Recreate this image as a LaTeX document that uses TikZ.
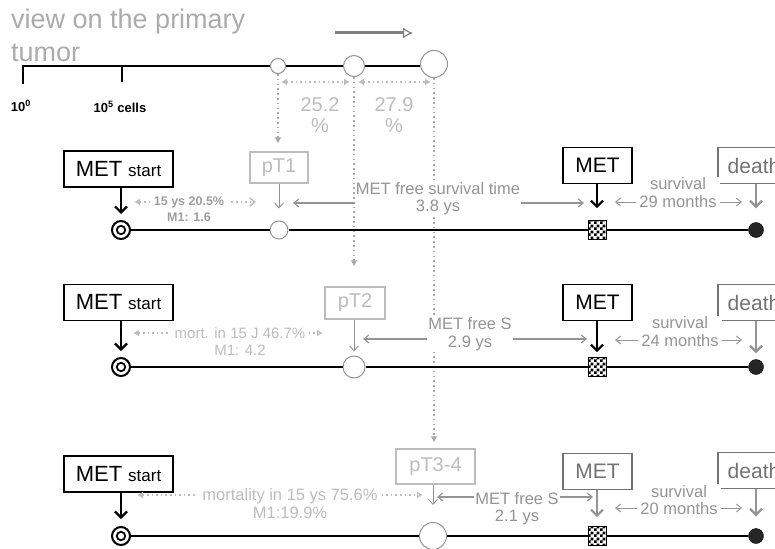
\documentclass[tikz,border=0pt]{standalone}
\usepackage{fontspec}
\setmainfont{Liberation Sans}
\usetikzlibrary{arrows.meta,patterns}
\definecolor{pale}{gray}{0.74}
\definecolor{midg}{gray}{0.58}
\definecolor{darkg}{gray}{0.45}
\pgfdeclarepatternformonly{checkthree}{\pgfqpoint{0pt}{0pt}}{\pgfqpoint{6pt}{6pt}}{\pgfqpoint{6pt}{6pt}}{%
  \pgfpathrectangle{\pgfqpoint{0pt}{0pt}}{\pgfqpoint{3pt}{3pt}}%
  \pgfpathrectangle{\pgfqpoint{3pt}{3pt}}{\pgfqpoint{3pt}{3pt}}%
  \pgfusepath{fill}}
\newcommand{\metstart}{{\fontsize{22}{24}\selectfont MET}\hspace{6pt}{\fontsize{17}{19}\selectfont start}}
\begin{document}
\begin{tikzpicture}[x=1pt,y=-1pt,
  blk/.style={line width=2.4pt, black},
  box/.style={draw, line width=1.4pt, minimum height=36pt, inner sep=0pt, fill=white},
  msbox/.style={box, minimum width=109pt},
  metbox/.style={box, minimum width=69pt, font=\fontsize{21}{24}\selectfont},
  dbox/.style={box, draw=darkg, text=darkg, minimum width=72pt, font=\fontsize{21}{24}\selectfont},
  ptbox/.style={draw=pale, line width=1.2pt, fill=white, text=pale, inner sep=0pt, font=\fontsize{20}{22}\selectfont},
  tc/.style={circle, draw=midg, line width=1pt, fill=white, inner sep=0pt},
  dcirc/.style={circle, draw=black, line width=2pt, fill=white, minimum size=18pt, inner sep=0pt},
  chk/.style={draw=black, line width=0.6pt, minimum width=18pt, minimum height=19pt, inner sep=0pt, pattern=checkthree, pattern color=black},
  bdot/.style={circle, fill=black!85, draw=black, minimum size=15pt, inner sep=0pt},
  blkarr/.style={line width=2.2pt, black, -{Straight Barb[length=6pt,width=12pt]}},
  grarr/.style={line width=2.2pt, midg, -{Straight Barb[length=6pt,width=12pt]}},
  ptarr/.style={line width=0.9pt, midg, -{Straight Barb[length=5pt,width=9pt]}},
  dotarr/.style={line width=1.6pt, pale, dash pattern=on 1.6pt off 3pt},
  vdot/.style={line width=1.8pt, midg!80, dash pattern=on 1.6pt off 3.2pt, -{Latex[length=6pt,width=7pt]}},
  midarr/.style={line width=1.1pt, midg, {Straight Barb[length=5pt,width=8pt]}-{Straight Barb[length=5pt,width=8pt]}},
  garr/.style={line width=3pt, black!50, -{Latex[open,length=10pt,width=11pt,line width=1.2pt]}},
  lbl/.style={fill=white, inner sep=1pt, align=center, text=midg, font=\fontsize{16.5}{17.5}\selectfont},
  llbl/.style={fill=white, inner sep=1pt, align=center, text=pale},
  pct/.style={align=center, text=pale, inner sep=0pt, font=\fontsize{20}{21}\selectfont},
  ttl/.style={align=left, text=black!33, inner sep=0pt, font=\fontsize{27}{33}\selectfont},
  scl/.style={inner sep=0pt, font=\fontsize{13}{15}\selectfont\bfseries}
]
\useasboundingbox (0,0) rectangle (775,548);
\clip (0,0) rectangle (775,548);

% ---------- top: view on the primary tumor ----------
\node[ttl, anchor=north west] (ttl) at (11,9) {view on the primary\\tumor};
\node[tc, minimum size=15pt] (c1) at (278,66) {};
\node[tc, minimum size=21pt] (c2) at (354,66) {};
\node[tc, minimum size=27pt] (c3) at (434,64) {};
\draw[blk] (23,84) -- (23,66) -- (c1.west);
\draw[blk] (c1.east) -- (c2.west);
\draw[blk] (c2.east) -- (c3.west |- c2.east);
\draw[blk] (122,66) -- (122,82);
\node[scl] (n0) at (21,106) {10\textsuperscript{0}};
\node[scl] (n5) at (120,107) {10\textsuperscript{5} cells};
\coordinate (ga) at (335,33);
\coordinate (gb) at (413,33);
\draw[garr] (ga) -- (gb);
\coordinate (h1a) at (281,82);
\coordinate (h1b) at (350,82);
\coordinate (h2a) at (358,82);
\coordinate (h2b) at (431,82);
\draw[dotarr, {Latex[length=6pt,width=7pt]}-{Latex[length=6pt,width=7pt]}] (h1a) -- (h1b);
\draw[dotarr, {Latex[length=6pt,width=7pt]}-{Latex[length=6pt,width=7pt]}] (h2a) -- (h2b);
\node[pct] (p1) at (320,115) {25.2\\\%};
\node[pct] (p2) at (394,115) {27.9\\\%};

% ---------- row nodes ----------
% row 1
\node[msbox] (ms1) at (118.5,169) {\metstart};
\node[dcirc] (d1) at (121,230) {};
\node[ptbox, minimum width=58pt, minimum height=31pt] (pt1) at (279,167.5) {pT1};
\node[tc, minimum size=18pt] (q1) at (279,230) {};
\node[chk] (s1) at (597,230) {};
\node[metbox] (m1) at (597.5,165.5) {MET};
\node[dbox] (e1) at (754,165.5) {death};
\node[bdot] (k1) at (756,230) {};
% row 2
\node[msbox] (ms2) at (118.5,302.5) {\metstart};
\node[dcirc] (d2) at (121,367) {};
\node[ptbox, minimum width=60pt, minimum height=32pt] (pt2) at (355,303) {pT2};
\node[tc, minimum size=22pt] (q2) at (354,367) {};
\node[chk] (s2) at (597,367) {};
\node[metbox] (m2) at (597.5,302.5) {MET};
\node[dbox] (e2) at (754,302.5) {death};
\node[bdot] (k2) at (756,367) {};
% row 3
\node[msbox] (ms3) at (118.5,474) {\metstart};
\node[dcirc] (d3) at (121,536) {};
\node[ptbox, minimum width=79pt, minimum height=35pt] (pt3) at (435.5,466.5) {pT3-4};
\node[tc, minimum size=27pt] (q3) at (433,536) {};
\node[chk] (s3) at (597,536) {};
\node[metbox, draw=darkg, text=darkg] (m3) at (597.5,471.5) {MET};
\node[dbox] (e3) at (754,470.5) {death};
\node[bdot] (k3) at (756,536) {};

% ---------- dotted verticals from the primary tumor ----------
\draw[vdot, shorten >=8pt] (c1.south) -- (c1.south |- pt1.north);
\draw[vdot, shorten >=20pt] (c2.south) -- (c2.south |- pt2.north);
\draw[vdot, shorten >=6pt] (c3.south) -- (c3.south |- pt3.north);

% ---------- row lines ----------
\draw[blk] (d1) -- (q1) -- (s1) -- (k1);
\draw[blk] (d2) -- (q2) -- (s2) -- (k2);
\draw[blk] (d3) -- (q3) -- (s3) -- (k3);
\draw[line width=1.8pt] (d1.center) circle (4.2pt);
\draw[line width=1.8pt] (d2.center) circle (4.2pt);
\draw[line width=1.8pt] (d3.center) circle (4.2pt);

% ---------- vertical arrows ----------
\draw[blkarr, shorten >=6pt] (ms1.south -| d1) -- (d1.north);
\draw[blkarr, shorten >=6pt] (ms2.south -| d2) -- (d2.north);
\draw[blkarr, shorten >=7pt] (ms3.south -| d3) -- (d3.north);
\draw[ptarr, shorten >=12pt] (pt1.south -| q1) -- (q1.north);
\draw[ptarr, shorten >=4pt] (pt2.south -| q2) -- (q2.north);
\draw[ptarr, shorten >=17pt] (pt3.south -| q3) -- (q3.north);
\draw[blkarr, shorten >=12pt] (m1.south -| s1) -- (s1.north);
\draw[blkarr, shorten >=5pt] (m2.south -| s2) -- (s2.north);
\draw[grarr, shorten >=9pt] (m3.south -| s3) -- (s3.north);
\draw[grarr, shorten >=14pt] (e1.south -| k1) -- (k1.north);
\draw[grarr, shorten >=6pt] (e2.south -| k2) -- (k2.north);
\draw[grarr, shorten >=12pt] (e3.south -| k3) -- (k3.north);

% ---------- horizontal annotation arrows ----------
\coordinate (a1l) at (134,202); \coordinate (a1r) at (256,202);
\coordinate (b1l) at (293,203); \coordinate (b1r) at (584,203);
\coordinate (f1l) at (615,202); \coordinate (f1r) at (742,202);
\coordinate (a2l) at (133,333); \coordinate (a2r) at (323,333);
\coordinate (b2l) at (363,339); \coordinate (b2r) at (587,339);
\coordinate (f2l) at (615,340); \coordinate (f2r) at (742,340);
\coordinate (a3l) at (137,495); \coordinate (a3r) at (423,495);
\coordinate (b3l) at (437,497); \coordinate (b3r) at (593,497);
\coordinate (f3l) at (615,508); \coordinate (f3r) at (742,508);
\draw[dotarr, {Latex[length=6pt,width=7pt]}-{Straight Barb[length=5pt,width=8pt]}] (a1l) -- (a1r);
\draw[dotarr, {Latex[length=6pt,width=7pt]}-{Latex[open,length=6pt,width=7pt]}] (a2l) -- (a2r);
\draw[dotarr, {Latex[length=6pt,width=7pt]}-{Latex[open,length=6pt,width=7pt]}] (a3l) -- (a3r);
\draw[midarr] (b1l) -- (b1r);
\draw[midarr] (b2l) -- (b2r);
\draw[midarr] (b3l) -- (b3r);
\draw[midarr, line width=0.9pt] (f1l) -- (f1r);
\draw[midarr, line width=0.9pt] (f2l) -- (f2r);
\draw[midarr, line width=0.9pt] (f3l) -- (f3r);

% ---------- labels ----------
\node[llbl, text=black!38, inner xsep=4pt, font=\fontsize{12.5}{16}\selectfont\bfseries] (L1) at (189,209) {15 ys 20.5\%\\M1: 1.6};
\node[llbl, inner xsep=4pt, font=\fontsize{15}{17}\selectfont] (L2) at (240,341.5) {mort. in 15 J 46.7\%\\M1: 4.2};
\node[llbl, inner xsep=4pt, font=\fontsize{16.5}{18}\selectfont] (L3) at (290,504) {mortality in 15 ys 75.6\%\\M1:19.9\%};
\node[lbl] (M1) at (438,198.5) {MET free survival time\\3.8 ys};
\node[lbl] (M2) at (470,334) {MET free S\\2.9 ys};
\node[lbl] (M3) at (517,508.5) {MET free S\\2.1 ys};
\node[lbl, inner xsep=3pt] (S1) at (678,192.5) {survival\\29 months};
\node[lbl, inner xsep=3pt] (S2) at (680,331.5) {survival\\24 months};
\node[lbl, inner xsep=3pt] (S3) at (679,500) {survival\\20 months};
\end{tikzpicture}
\end{document}
